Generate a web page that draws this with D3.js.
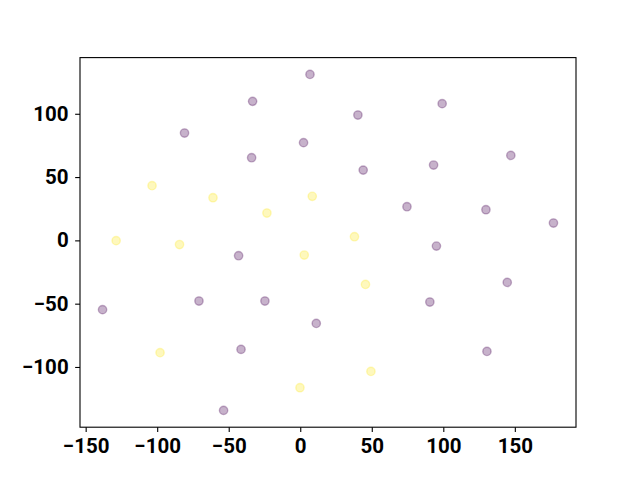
<!DOCTYPE html>
<meta charset="UTF-8">
<style>
  body { margin: 0; background: #fff; }
</style>
<svg width="640" height="480"></svg>
<script src="https://cdn.jsdelivr.net/npm/d3@7"></script>
<script>

// purple group (class 0)
var xPurple = [6.8, -33.3, 99.2, 40.3, -80.9, 2.3, -34.0, 147.2, 44.0, 93.2, 74.6, 129.8,
               177.0, 95.2, -43.1, 144.7, -138.2, -70.8, -24.7, 90.6, 11.2, -41.4, 130.5, -53.6];
var yPurple = [131.1, 109.8, 108.0, 99.0, 84.8, 77.2, 65.3, 67.1, 55.5, 59.5, 26.6, 24.2,
               13.7, -4.5, -12.1, -33.2, -54.7, -47.9, -47.9, -48.7, -65.6, -86.1, -87.7, -134.3];

// yellow group (class 1)
var xYellow = [-103.6, -61.0, 8.4, -23.3, -128.7, -84.4, 37.9, 2.8, 45.6, -98.0, 49.4, -0.2];
var yYellow = [43.2, 33.7, 34.8, 21.6, -0.2, -3.3, 2.9, -11.6, -34.8, -88.7, -103.5, -116.4];

var xTicks = [-150, -100, -50, 0, 50, 100, 150];
var yTicks = [-100, -50, 0, 50, 100];

(function() {
  var svg = d3.select("svg"),
      mLeft = 80, mRight = 576, mTop = 57.6, mBottom = 427.2;

  var points = [];
  xPurple.forEach(function(x, i) { points.push({x: x, y: yPurple[i], c: "#440154"}); });
  xYellow.forEach(function(x, i) { points.push({x: x, y: yYellow[i], c: "#fde725"}); });

  // 5% margins like matplotlib autoscale
  function padded(vals) {
    var e = d3.extent(vals), m = (e[1] - e[0]) * 0.05;
    return [e[0] - m, e[1] + m];
  }

  var x = d3.scaleLinear()
      .domain(padded(points.map(function(d) { return d.x; })))
      .range([mLeft, mRight]);
  var y = d3.scaleLinear()
      .domain(padded(points.map(function(d) { return d.y; })))
      .range([mBottom, mTop]);

  var tickLen = 4.86;

  function style(g) {
    g.attr("font-family", "Roboto, 'DejaVu Sans', sans-serif")
     .attr("font-size", 20.5)
     .attr("font-weight", "bold");
    g.select(".domain").remove();
    g.selectAll("line").attr("stroke-width", 1.1);
  }

  svg.append("g")
      .attr("transform", "translate(0," + mBottom + ")")
      .call(d3.axisBottom(x).tickValues(xTicks).tickFormat(d3.format("d"))
        .tickSizeInner(tickLen).tickSizeOuter(0).tickPadding(6.5))
      .call(style);

  svg.append("g")
      .attr("transform", "translate(" + mLeft + ",0)")
      .call(d3.axisLeft(y).tickValues(yTicks).tickFormat(d3.format("d"))
        .tickSizeInner(tickLen).tickSizeOuter(0).tickPadding(6.5))
      .call(style);

  svg.append("g")
    .selectAll("circle")
    .data(points)
    .enter().append("circle")
      .attr("cx", function(d) { return x(d.x); })
      .attr("cy", function(d) { return y(d.y); })
      .attr("r", 4.17)
      .attr("fill", function(d) { return d.c; })
      .attr("fill-opacity", 0.3)
      .attr("stroke", function(d) { return d.c; })
      .attr("stroke-opacity", 0.3)
      .attr("stroke-width", 1.39);

  svg.append("rect")
      .attr("x", mLeft).attr("y", mTop)
      .attr("width", mRight - mLeft).attr("height", mBottom - mTop)
      .attr("fill", "none")
      .attr("stroke", "#000")
      .attr("stroke-width", 1.1);
})();
</script>
